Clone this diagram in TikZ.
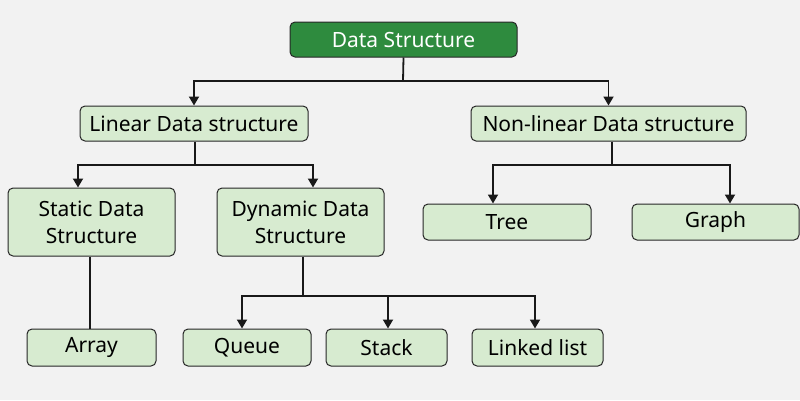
\documentclass[tikz,border=0pt]{standalone}
\usepackage{fontspec}
\setmainfont{Noto Sans}
\usetikzlibrary{arrows.meta}
\definecolor{bg}{HTML}{F2F2F2}
\definecolor{lg}{HTML}{D7EBD0}
\definecolor{dg}{HTML}{2E8B3E}
\begin{document}
\begin{tikzpicture}[x=1pt,y=-1pt,
 box/.style={draw=black!85,line width=1pt,rounded corners=5pt,fill=lg,inner sep=0pt,align=center,font=\fontsize{21}{27}\selectfont},
 top/.style={box,fill=dg,text=white},
 con/.style={line width=1.8pt,black!90},
 arr/.style={con,-{Triangle[length=9pt,width=10pt]}}]
\fill[bg] (0,0) rectangle (800,400);
\useasboundingbox (0,0) rectangle (800,400);
\node[top,minimum width=227pt,minimum height=35pt] (ds) at (403.5,39.5) {Data Structure};
\node[box,minimum width=228pt,minimum height=35pt] (lin) at (194,123.5) {Linear Data structure};
\node[box,minimum width=275pt,minimum height=35pt] (non) at (608.5,123.5) {Non-linear Data structure};
\node[box,minimum width=167pt,minimum height=68pt] (sta) at (91.5,222) {Static Data\\Structure};
\node[box,minimum width=167pt,minimum height=68pt] (dyn) at (300.5,222) {Dynamic Data\\Structure};
\node[box,minimum width=168pt,minimum height=36pt] (tree) at (507,222) {Tree};
\node[box,minimum width=167pt,minimum height=36pt] (graph) at (715.5,222) {Graph};
\node[box,minimum width=129pt,minimum height=37pt] (arr) at (91.5,347.5) {Array};
\node[box,minimum width=128pt,minimum height=37pt] (que) at (247,347.5) {Queue};
\node[box,minimum width=121pt,minimum height=37pt] (sta2) at (386.5,347.5) {Stack};
\node[box,minimum width=131pt,minimum height=37pt] (ll) at (537.5,347.5) {Linked list};
\coordinate (j1) at (403,81);
\draw[con] (ds.south) -- (j1);
\draw[arr] (j1) -| (lin.north);
\draw[arr] (j1) -| (non.north);
\coordinate (j2) at (195,165);
\draw[con] (lin.south-|j2) -- (j2);
\draw[arr] (j2) -| (sta.north-|78,0);
\draw[arr] (j2) -| (dyn.north-|313,0);
\coordinate (j3) at (612,165);
\draw[con] (non.south-|j3) -- (j3);
\draw[arr] (j3) -| (tree.north-|493,0);
\draw[arr] (j3) -| (graph.north-|730,0);
\draw[con] (sta.south-|90,0) -- (arr.north-|90,0);
\coordinate (j4) at (303,296);
\draw[con] (dyn.south-|j4) -- (j4);
\draw[arr] (j4) -| (que.north-|242,0);
\draw[arr] (j4) -| (sta2.north-|388,0);
\draw[arr] (j4) -| (ll.north-|535,0);
\end{tikzpicture}
\end{document}
